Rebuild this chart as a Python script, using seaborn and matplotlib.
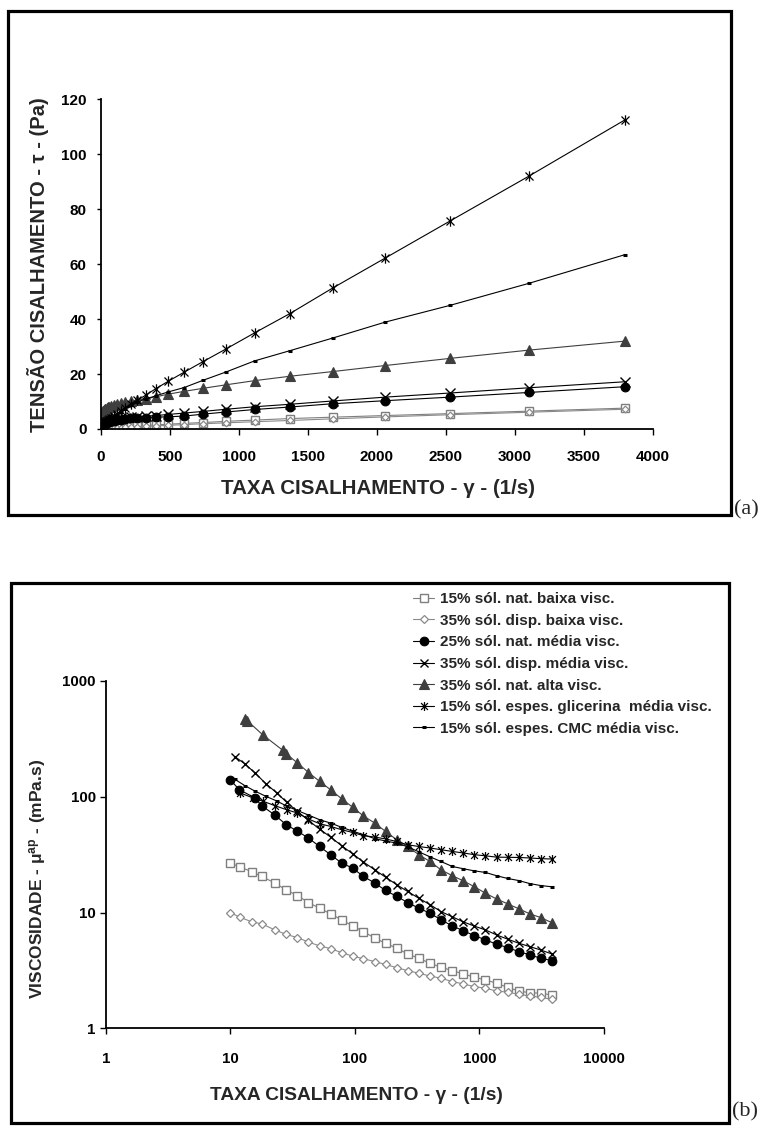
import matplotlib
matplotlib.use("Agg")
import matplotlib.pyplot as plt
import seaborn as sns
from matplotlib.path import Path
from matplotlib.patches import Rectangle
from matplotlib.ticker import FixedLocator, NullLocator

# === DATA ===
# shear rates (1/s) of each sample
rate_baixa = [10, 11.9, 14.8, 17.8, 22.7, 27.9, 34.5, 42.3, 51.9, 63.6, 78, 95.6, 117, 144, 176,
              216, 265, 325, 400, 490, 605, 740, 910, 1115, 1370, 1680, 2060, 2530, 3100, 3800]
rate_nat_media = [10, 11.8, 15.7, 17.8, 22.8, 28, 34.5, 42.3, 51.9, 63.6, 78, 95.6, 117, 144, 176,
                  216, 265, 325, 400, 490, 605, 740, 910, 1115, 1370, 1680, 2060, 2530, 3100, 3800]
rate_media = [10.9, 13.0, 15.7, 19.2, 23.5, 28.3, 34.5, 42.3, 51.9, 63.6, 78, 95.6, 117, 144, 176,
              216, 265, 325, 400, 490, 605, 740, 910, 1115, 1370, 1680, 2060, 2530, 3100, 3800]
rate_alta = [13.1, 13.6, 18.1, 26.3, 27.9, 34.5, 42.3, 51.9, 63.6, 78, 95.6, 117, 144, 176,
             216, 265, 325, 400, 490, 605, 740, 910, 1115, 1370, 1680, 2060, 2530, 3100, 3800]
rate_glicerina = [11.9, 15.2, 18.4, 22.7, 28.2, 34.5, 42.3, 51.9, 63.6, 78, 95.6, 117, 144, 176,
                  216, 265, 325, 400, 490, 605, 740, 910, 1115, 1370, 1680, 2060, 2530, 3100, 3800]

# (a) shear stress, Pa
tau_nat_baixa = [0.27, 0.29, 0.33, 0.37, 0.41, 0.44, 0.48, 0.52, 0.57, 0.62, 0.68, 0.73, 0.80, 0.87, 0.96,
                 1.06, 1.16, 1.31, 1.50, 1.75, 2.05, 2.35, 2.8, 3.25, 3.8, 4.3, 4.9, 5.6, 6.5, 7.6]
tau_disp_baixa = [0.10, 0.11, 0.12, 0.14, 0.16, 0.18, 0.21, 0.24, 0.27, 0.31, 0.35, 0.40, 0.47, 0.54, 0.63,
                  0.72, 0.84, 0.97, 1.15, 1.35, 1.6, 1.9, 2.25, 2.65, 3.1, 3.7, 4.4, 5.2, 6.1, 7.2]
tau_nat_media = [1.4, 1.45, 1.6, 1.65, 1.8, 1.9, 2.1, 2.3, 2.5, 2.65, 2.8, 3.05, 3.2, 3.45, 3.6,
                 3.85, 4.0, 4.15, 4.3, 4.45, 4.7, 5.4, 6.2, 7.1, 8.0, 9.2, 10.3, 11.6, 13.3, 15.4]
tau_disp_media = [2.5, 2.6, 2.65, 2.7, 2.75, 2.8, 2.9, 3.0, 3.1, 3.25, 3.4, 3.55, 3.7, 3.9, 4.1,
                  4.3, 4.5, 4.7, 4.9, 5.3, 5.8, 6.4, 7.2, 8.1, 9.0, 10.2, 11.6, 13.1, 15.0, 17.2]
tau_nat_alta = [6.4, 6.5, 6.7, 7.0, 7.1, 7.4, 7.6, 7.9, 8.1, 8.4, 8.7, 9.0, 9.4, 9.7, 10.1,
                10.5, 11.0, 11.7, 12.7, 13.7, 14.8, 16.1, 17.6, 19.2, 20.9, 23.1, 25.7, 28.7, 32.0]
tau_glicerina = [1.3, 1.5, 1.7, 1.9, 2.2, 2.5, 2.8, 3.1, 3.6, 4.1, 4.8, 5.5, 6.6, 7.7, 9.0,
                 10.4, 12.3, 14.7, 17.4, 20.7, 24.5, 29.2, 35.0, 42.0, 51.3, 62.2, 75.7, 92.0, 112.6]
tau_cmc = [1.54, 1.63, 1.76, 1.94, 2.16, 2.35, 2.62, 2.94, 3.29, 3.77, 4.25, 4.83, 5.50, 6.26, 7.30,
           8.60, 9.81, 10.9, 12.1, 13.5, 15.1, 17.7, 20.8, 24.8, 28.5, 33.1, 38.9, 45.0, 53.0, 63.5]

# (b) apparent viscosity, mPa.s
mu_nat_baixa = [26.8, 24.7, 22.6, 20.5, 18.0, 15.7, 14.0, 12.2, 10.9, 9.75, 8.65, 7.67, 6.85, 6.01, 5.44,
                4.92, 4.39, 4.03, 3.65, 3.37, 3.15, 2.95, 2.76, 2.62, 2.45, 2.26, 2.10, 2.03, 2.01, 1.94]
mu_disp_baixa = [9.94, 9.12, 8.31, 7.99, 7.08, 6.48, 6.07, 5.56, 5.15, 4.88, 4.51, 4.20, 3.99, 3.77, 3.56,
                 3.34, 3.15, 2.99, 2.83, 2.71, 2.53, 2.42, 2.29, 2.22, 2.10, 2.05, 1.97, 1.90, 1.85, 1.78]
mu_nat_media = [139, 115, 97.7, 83.8, 69.3, 57.4, 50.4, 44.0, 37.2, 31.6, 26.8, 24.2, 20.5, 18.0, 15.5,
                13.8, 12.2, 10.9, 9.88, 8.65, 7.67, 6.95, 6.32, 5.81, 5.33, 4.98, 4.60, 4.31, 4.03, 3.85]
mu_disp_media = [221, 193, 161, 130, 108, 89.5, 74.8, 62.5, 52.6, 44.9, 37.8, 32.2, 27.3, 23.4, 20.2,
                 17.4, 15.2, 13.3, 11.7, 10.2, 9.18, 8.31, 7.63, 7.08, 6.41, 5.89, 5.44, 5.08, 4.75, 4.39]
mu_nat_alta = [471, 455, 344, 252, 236, 196, 162, 136, 115, 96.3, 81.3, 68.2, 59.3, 50.2, 42.6,
               37.2, 31.6, 27.6, 23.4, 20.8, 18.8, 16.7, 14.7, 13.1, 11.9, 10.8, 9.75, 9.05, 8.19]
mu_glicerina = [108, 97.7, 91.2, 83.8, 77.3, 72.4, 64.3, 58.5, 55.5, 51.9, 49.2, 46.1, 44.9, 43.2, 41.1,
                38.5, 37.2, 36.1, 34.9, 33.7, 32.7, 31.6, 30.9, 30.1, 30.0, 29.9, 29.6, 29.2, 29.0]
mu_cmc = [141, 125, 112, 101, 92, 83, 76, 69.5, 63.4, 59.3, 54.5, 50.5, 47, 43.5, 41.5,
          39.8, 37, 33.5, 30.3, 27.6, 25.0, 23.9, 22.9, 22.2, 20.8, 19.7, 18.9, 17.8, 17.1, 16.7]

labels = ["15% sól. nat. baixa visc.",
          "35% sól. disp. baixa visc.",
          "25% sól. nat. média visc.",
          "35% sól. disp. média visc.",
          "35% sól. nat. alta visc.",
          "15% sól. espes. glicerina  média visc.",
          "15% sól. espes. CMC média visc."]

x_ticks_a = [0, 500, 1000, 1500, 2000, 2500, 3000, 3500, 4000]
y_ticks_a = [0, 20, 40, 60, 80, 100, 120]
x_ticks_b = [1, 10, 100, 1000, 10000]
y_ticks_b = [1, 10, 100, 1000]
# ======================

# excel-like asterisk: x with a vertical bar
STAR = Path([(-1, -1), (1, 1), (-1, 1), (1, -1), (0, -1.3), (0, 1.3)],
            [Path.MOVETO, Path.LINETO, Path.MOVETO, Path.LINETO, Path.MOVETO, Path.LINETO])

# marker style per series: (marker, face, edge, line colour, ms top, ms bottom, mew)
styles = [
    ("s", "white", "#7f7f7f", "#7f7f7f", 6.0, 6.2, 1.0),
    ("D", "white", "#8a8a8a", "#8a8a8a", 3.4, 4.2, 0.9),
    ("o", "black", "black", "black", 6.3, 6.2, 0.8),
    ("x", "none", "black", "black", 6.5, 6.4, 1.0),
    ("^", "#3f3f3f", "#3f3f3f", "#3f3f3f", 7.5, 6.8, 0.8),
    (STAR, "none", "black", "black", 7.5, 6.4, 0.9),
    ("_", "black", "black", "black", 3.5, 3.5, 2.2),
]

rates = [rate_baixa, rate_baixa, rate_nat_media, rate_media, rate_alta, rate_glicerina, rate_media]
taus = [tau_nat_baixa, tau_disp_baixa, tau_nat_media, tau_disp_media, tau_nat_alta, tau_glicerina, tau_cmc]
mus = [mu_nat_baixa, mu_disp_baixa, mu_nat_media, mu_disp_media, mu_nat_alta, mu_glicerina, mu_cmc]

sns.set_theme(style="ticks")
plt.rcParams["font.family"] = ["Liberation Sans", "DejaVu Sans"]
plt.rcParams["font.weight"] = "bold"
plt.rcParams["mathtext.fontset"] = "custom"
plt.rcParams["mathtext.rm"] = "Liberation Sans:bold"
plt.rcParams["mathtext.it"] = "Liberation Sans:bold"
plt.rcParams["mathtext.bf"] = "Liberation Sans:bold"
plt.rcParams["mathtext.default"] = "regular"

W, H = 761, 1128
fig = plt.figure(figsize=(W / 100, H / 100), dpi=100)
fig.patch.set_facecolor("white")

def fx(px):
    return px / W

def fy(py):
    return 1 - py / H

ax1 = fig.add_axes([fx(100.7), fy(429), fx(653) - fx(100.7), fy(99.3) - fy(429)])
ax2 = fig.add_axes([fx(106), fy(1028.3), fx(604) - fx(106), fy(681) - fy(1028.3)])
ax2.set_xscale("log")
ax2.set_yscale("log")

for i in range(len(labels)):
    mk, face, edge, lc, ms_a, ms_b, mew = styles[i]
    sns.lineplot(x=rates[i], y=taus[i], ax=ax1, estimator=None, sort=False, legend=False,
                 color=lc, marker=mk, markersize=ms_a, markerfacecolor=face,
                 markeredgecolor=edge, markeredgewidth=mew, linewidth=0.8)
    sns.lineplot(x=rates[i], y=mus[i], ax=ax2, estimator=None, sort=False, legend=False,
                 color=lc, marker=mk, markersize=ms_b, markerfacecolor=face,
                 markeredgecolor=edge, markeredgewidth=mew, linewidth=0.8, label=labels[i])

#### TOP (a)
ax1.set_xlim(0, 4000)
ax1.set_ylim(0, 120)
ax1.set_xticks(x_ticks_a)
ax1.set_yticks(y_ticks_a)
ax1.tick_params(axis="x", direction="out", length=4.3, width=1, pad=11, labelsize=11, colors="black")
ax1.tick_params(axis="y", direction="out", length=3, width=1, pad=7, labelsize=11, colors="black")

#### BOTTOM (b)
ax2.set_xlim(1, 10000)
ax2.set_ylim(1, 1000)
ax2.xaxis.set_major_locator(FixedLocator(x_ticks_b))
ax2.yaxis.set_major_locator(FixedLocator(y_ticks_b))
ax2.xaxis.set_minor_locator(NullLocator())
ax2.yaxis.set_minor_locator(NullLocator())
ax2.set_xticklabels([str(v) for v in x_ticks_b])
ax2.set_yticklabels([str(v) for v in y_ticks_b])
ax2.tick_params(axis="x", direction="out", length=4.3, width=1, pad=12.5, labelsize=10.8, colors="black")
ax2.tick_params(axis="y", direction="out", length=4.3, width=1, pad=3, labelsize=10.8, colors="black")

for ax in (ax1, ax2):
    ax.set_xlabel("")
    ax.set_ylabel("")
    ax.set_facecolor("none")
    sns.despine(ax=ax)
    for side in ("left", "bottom"):
        ax.spines[side].set_linewidth(1.3)
        ax.spines[side].set_color("black")
    for lab in ax.get_xticklabels() + ax.get_yticklabels():
        lab.set_fontweight("bold")

handles, labs = ax2.get_legend_handles_labels()
ax2.legend(handles, labs, loc="upper left", bbox_to_anchor=(fx(413), fy(592)),
           bbox_transform=fig.transFigure, frameon=False, borderpad=0, borderaxespad=0,
           handlelength=1.4, handletextpad=0.4, labelspacing=0.5,
           prop={"weight": "bold", "size": 11})

# axis titles
fig.text(fx(378), fy(488), "TAXA CISALHAMENTO - γ - (1/s)", ha="center", va="center",
         fontsize=14.8, fontweight="bold")
fig.text(fx(38), fy(265), "TENSÃO CISALHAMENTO - τ - (Pa)", ha="center", va="center",
         rotation=90, fontsize=14.5, fontweight="bold")
fig.text(fx(356), fy(1095), "TAXA CISALHAMENTO - γ - (1/s)", ha="center", va="center",
         fontsize=13.8, fontweight="bold")
fig.text(fx(38), fy(879), "VISCOSIDADE - μ$^{ap}$ - (mPa.s)", ha="center", va="center",
         rotation=90, fontsize=12.5, fontweight="bold")

# panel frames and tags
fig.patches.append(Rectangle((fx(8), fy(515)), fx(731) - fx(8), fy(11) - fy(515),
                             transform=fig.transFigure, fill=False, lw=2.3, ec="black"))
fig.patches.append(Rectangle((fx(10.5), fy(1122.5)), fx(729) - fx(10.5), fy(583) - fy(1122.5),
                             transform=fig.transFigure, fill=False, lw=2.3, ec="black"))
fig.text(fx(746), fy(510), "(a)", ha="center", va="center", fontsize=16,
         family=["Liberation Serif", "DejaVu Serif"], fontweight="normal")
fig.text(fx(745), fy(1112), "(b)", ha="center", va="center", fontsize=16,
         family=["Liberation Serif", "DejaVu Serif"], fontweight="normal")

fig.savefig("out.png", dpi=100)
